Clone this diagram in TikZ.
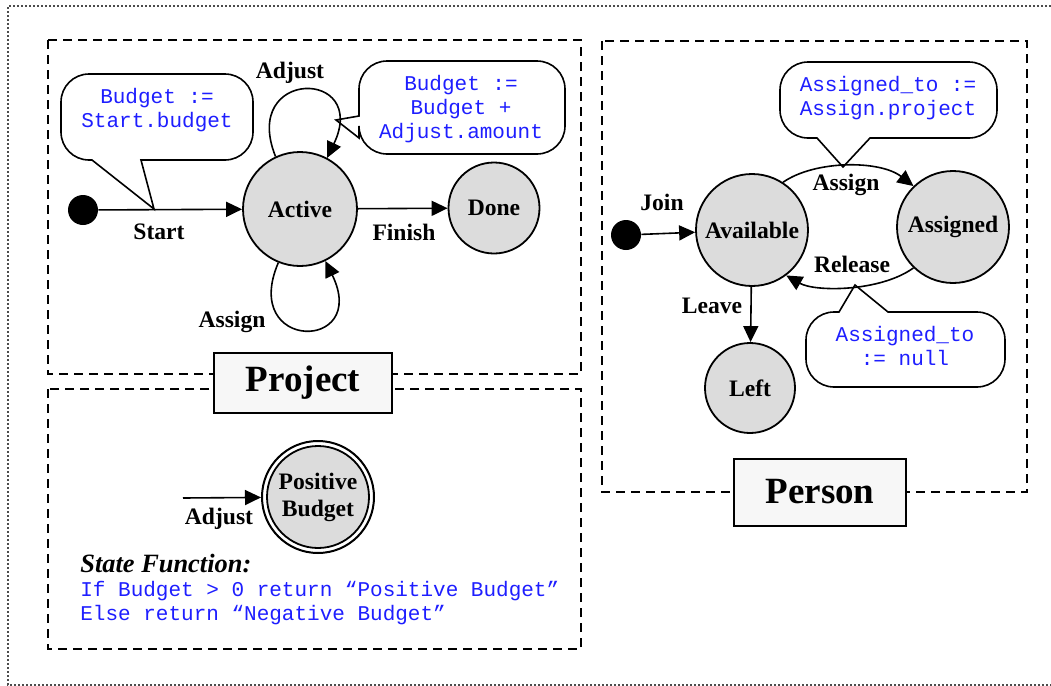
\documentclass[tikz,border=0pt]{standalone}
\usepackage{fontspec}
\setmainfont{Liberation Serif}
\setmonofont{Liberation Mono}
\usetikzlibrary{arrows.meta}
\definecolor{stategray}{RGB}{220,220,220}
\definecolor{titlegray}{RGB}{247,247,247}
\definecolor{codeblue}{RGB}{30,30,255}

\begin{document}
\begin{tikzpicture}[x=0.5pt,y=-0.5pt,
  state/.style={circle,draw,line width=0.9pt,fill=stategray,inner sep=0pt,align=center,
    font=\bfseries\fontsize{11.8}{13.5}\selectfont},
  initial/.style={circle,fill=black,inner sep=0pt,minimum size=15pt},
  trans/.style={line width=0.8pt,-{Triangle[length=8pt,width=7.5pt]}},
  lbl/.style={font=\bfseries\fontsize{11.8}{14}\selectfont,inner sep=0pt},
  code/.style={text=codeblue,font=\ttfamily\fontsize{10.5}{12}\selectfont,align=center,inner sep=0pt},
  bubble/.style={draw,fill=white,line width=0.8pt},
  region/.style={draw,dash pattern=on 4.5pt off 3pt,line width=0.75pt},
  title/.style={draw,fill=titlegray,line width=1pt,font=\bfseries\fontsize{18.5}{20}\selectfont}]
\useasboundingbox (0,0) rectangle (1051,686);

% outer frame
\draw[black!70,line width=0.6pt,dash pattern=on 1pt off 1pt] (1051,6) -- (8,6) -- (8,685) -- (1051,685);

% regions
\draw[region] (48,40) rectangle (581,374);
\draw[region] (48,389) rectangle (581,649);
\draw[region] (602,41) rectangle (1027,492);

% Project: callouts
\draw[bubble] (154,209) -- (141,160) {[rounded corners=14] -- (253,160) -- (253,74) -- (61,74) -- (61,160)} -- (92,160) -- cycle;
\node[code] (cstart) at (157,110) {Budget :=\\Start.budget};
\draw[bubble] (336,120) -- (359,116) {[rounded corners=14] -- (359,61) -- (565,61) -- (565,154) -- (359,154)} -- (359,138) -- cycle;
\node[code] (cadjust) at (461,109) {Budget :=\\Budget +\\Adjust.amount};

% Project: states
\node[initial] (init1) at (83,210) {};
\node[state,minimum size=57pt] (active) at (300,209) {Active};
\node[state,minimum size=45.5pt] (done) at (494,208) {Done};

\draw[trans] (init1) -- (active);
\draw[trans] (active) -- (done);
\draw[trans] (active.115) .. controls (240,68) and (370,68) .. (active.62);
\draw[trans] (active.-112) .. controls (240,352) and (370,352) .. (active.-64);

\node[lbl] (lstart) at (159,232) {Start};
\node[lbl] (lfinish) at (404,232) {Finish};
\node[lbl] (ladjust) at (290,73) {Adjust};
\node[lbl] (lassign) at (232,322) {Assign};

% Project: state function
\node[circle,draw,fill=white,line width=1pt,inner sep=0pt,minimum size=56pt] (pbout) at (318,497) {};
\node[state,minimum size=51pt] (pb) at (318,497) {Positive\\Budget};
\coordinate (adjin) at (183,498);
\draw[trans] (adjin) -- (pbout);
\node[lbl] (ladjust2) at (219,519) {Adjust};
\node[anchor=west,inner sep=0pt,font=\bfseries\itshape\fontsize{13.2}{15}\selectfont] (sfun) at (80,564) {State Function:};
\node[code,anchor=west] (sfun1) at (80,591) {If Budget > 0 return “Positive Budget”};
\node[code,anchor=west] (sfun2) at (80,615) {Else return “Negative Budget”};

% Person: callouts
\draw[bubble] (843,167) -- (870,138) {[rounded corners=14] -- (997,138) -- (997,62) -- (780,62) -- (780,138)} -- (817,138) -- cycle;
\node[code] (cassign) at (888,98) {Assigned\_to :=\\Assign.project};
\draw[bubble] (855,285) -- (888,312) {[rounded corners=14] -- (1005,312) -- (1005,387) -- (806,387) -- (806,312)} -- (839,312) -- cycle;
\node[code] (crelease) at (905,346) {Assigned\_to\\:= null};

% Person: states
\node[initial] (init2) at (626,235) {};
\node[state,minimum size=56pt] (avail) at (752,230) {Available};
\node[state,minimum size=56pt] (assigned) at (953,227) {Assigned};
\node[state,minimum size=45pt] (left) at (750,388) {Left};

\draw[trans] (init2) -- (avail);
\draw[trans] (avail) -- (left);
\draw[trans] (avail.57) .. controls (815,160) and (880,160) .. (assigned.134);
\draw[trans] (assigned.-134) .. controls (880,292) and (815,292) .. (avail.-53);

\node[lbl] (ljoin) at (662,202) {Join};
\node[lbl] (lleave) at (712,306) {Leave};
\node[lbl] (lassign2) at (846,185) {Assign};
\node[lbl] (lrelease) at (852,264) {Release};

% titles
\node[title,minimum width=89pt,minimum height=30pt] (tproject) at (303,383) {Project};
\node[title,minimum width=86pt,minimum height=33.5pt] (tperson) at (820,492) {Person};
\end{tikzpicture}
\end{document}
